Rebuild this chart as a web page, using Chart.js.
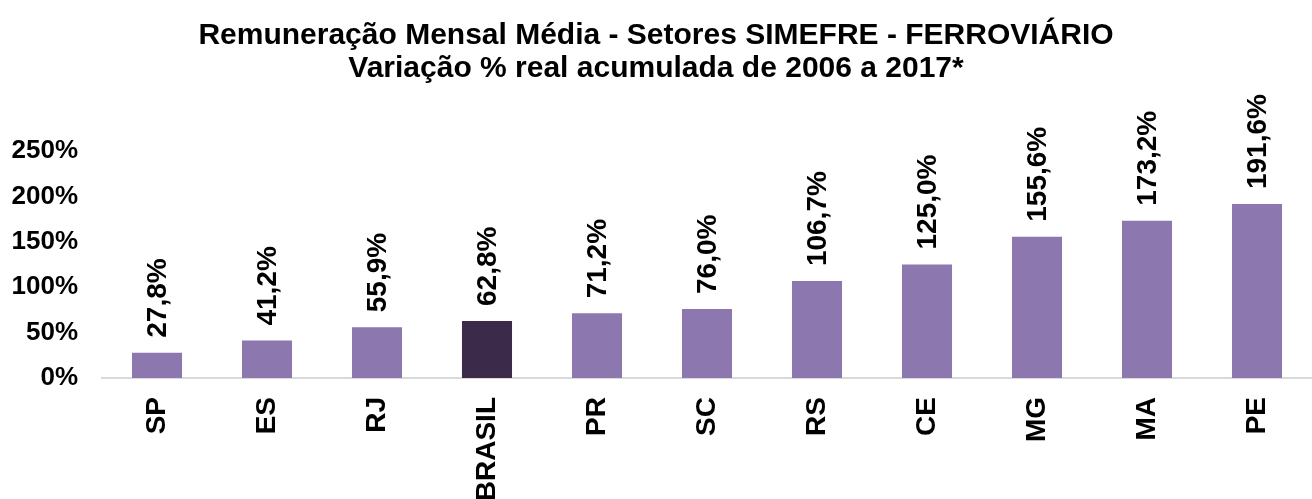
<!DOCTYPE html>
<html>
<head>
<meta charset="utf-8">
<script src="https://cdn.jsdelivr.net/npm/chart.js@4.4.1/dist/chart.umd.min.js"></script>
<style>
  html, body { margin: 0; padding: 0; background: #fff; }
  #wrap { width: 1312px; height: 499px; }
</style>
</head>
<body>
<div id="wrap"><canvas id="chart"></canvas></div>
<script>
// Data
const categories = ['SP', 'ES', 'RJ', 'BRASIL', 'PR', 'SC', 'RS', 'CE', 'MG', 'MA', 'PE'];
const values = [27.8, 41.2, 55.9, 62.8, 71.2, 76.0, 106.7, 125.0, 155.6, 173.2, 191.6];
const highlight = 'BRASIL';
const yTicks = [0, 50, 100, 150, 200, 250];
const titleLines = [
    'Remuneração Mensal Média - Setores SIMEFRE - FERROVIÁRIO',
    'Variação % real acumulada de 2006 a 2017*'
];

const FONT = 'Liberation Sans, Arial, sans-serif';
const barColors = categories.map(c => c === highlight ? '#3b2a4a' : '#8c77ae');

// Rotated value labels above bars
const valueLabels = {
    id: 'valueLabels',
    afterDatasetsDraw(chart) {
        const ctx = chart.ctx;
        const meta = chart.getDatasetMeta(0);
        ctx.save();
        ctx.fillStyle = '#000';
        ctx.font = 'bold 28px ' + FONT;
        ctx.textAlign = 'left';
        ctx.textBaseline = 'middle';
        meta.data.forEach((bar, i) => {
            const txt = values[i].toFixed(1).replace('.', ',') + '%';
            ctx.save();
            ctx.translate(bar.x + 1, bar.y - 15);
            ctx.rotate(-Math.PI / 2);
            ctx.fillText(txt, 0, 0);
            ctx.restore();
        });
        ctx.restore();
    }
};

new Chart(document.getElementById('chart'), {
    type: 'bar',
    data: {
        labels: categories,
        datasets: [{
            data: values,
            backgroundColor: barColors,
            borderWidth: 0,
            barPercentage: 0.455,
            categoryPercentage: 1
        }]
    },
    options: {
        responsive: true,
        maintainAspectRatio: false,
        animation: false,
        layout: { padding: 0 },
        plugins: {
            legend: { display: false },
            tooltip: { enabled: false },
            title: {
                display: true,
                text: titleLines,
                color: '#000',
                font: { family: FONT, size: 30, weight: 'bold', lineHeight: 1.1 },
                padding: { top: 19, bottom: 66 }
            }
        },
        scales: {
            x: {
                grid: { display: false },
                border: { display: true, color: '#d9d9d9', width: 2 },
                ticks: {
                    color: '#000',
                    font: { family: FONT, size: 28, weight: 'bold' },
                    minRotation: 90,
                    maxRotation: 90,
                    autoSkip: false,
                    padding: 11
                },
                afterFit(scale) { scale.height = 121; }
            },
            y: {
                min: 0,
                max: 250,
                grid: { display: false, drawTicks: false },
                border: { display: false },
                afterBuildTicks(scale) { scale.ticks = yTicks.map(v => ({ value: v })); },
                ticks: {
                    color: '#000',
                    font: { family: FONT, size: 26, weight: 'bold' },
                    padding: 24,
                    callback: v => v + '%'
                },
                afterFit(scale) { scale.width = 102; }
            }
        }
    },
    plugins: [valueLabels]
});
</script>
</body>
</html>
